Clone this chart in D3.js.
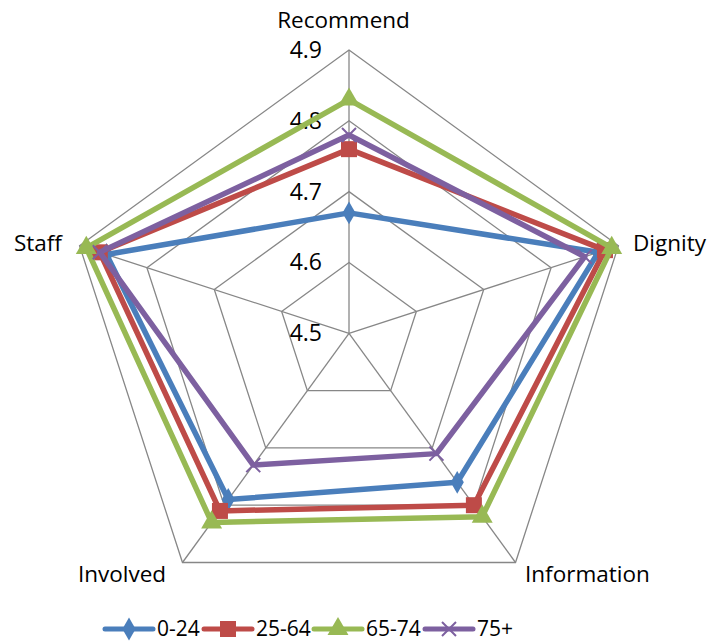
<!DOCTYPE html>
<html>
<head>
<meta charset="utf-8">
<script src="https://cdn.jsdelivr.net/npm/d3@7"></script>
<style>
  body { margin: 0; background: #fff; }
  text { font-family: "Open Sans", "Liberation Sans", sans-serif; fill: #000; }
</style>
</head>
<body>
<div id="chart"></div>
<script>
// Chart data
const categories = ['Recommend', 'Dignity', 'Information', 'Involved', 'Staff'];
const seriesNames = ['0-24', '25-64', '65-74', '75+'];
const age0_24 = [4.67, 4.87, 4.76, 4.79, 4.86];
const age25_64 = [4.76, 4.88, 4.80, 4.81, 4.87];
const age65_74 = [4.83, 4.89, 4.82, 4.83, 4.89];
const age75plus = [4.78, 4.85, 4.71, 4.73, 4.87];
const tickValues = [4.5, 4.6, 4.7, 4.8, 4.9];

const allSeries = [age0_24, age25_64, age65_74, age75plus];
const colors = ['#4A7EBB', '#BE4B48', '#98B954', '#7D60A0'];
const markers = ['diamond', 'square', 'triangle', 'cross'];

const width = 709, height = 641;
const cx = 349, cy = 333.3, R = 283.3;

const svg = d3.select('#chart').append('svg')
  .attr('width', width)
  .attr('height', height);

const r = d3.scaleLinear().domain([4.5, 4.9]).range([0, R]);
const angle = d3.scalePoint().domain(d3.range(categories.length))
  .range([0, 2 * Math.PI * (categories.length - 1) / categories.length]);

const radar = svg.append('g').attr('transform', `translate(${cx}, ${cy})`);

const pt = (i, v) => {
  const a = angle(i) - Math.PI / 2;
  return [r(v) * Math.cos(a), r(v) * Math.sin(a)];
};

// grid rings
tickValues.slice(1).forEach(t => {
  radar.append('path')
    .attr('d', d3.line()(categories.map((c, i) => pt(i, t))) + 'Z')
    .attr('fill', 'none')
    .attr('stroke', '#878787')
    .attr('stroke-width', 1.3);
});
// spokes
categories.forEach((c, i) => {
  const p = pt(i, 4.9);
  radar.append('line')
    .attr('x1', 0).attr('y1', 0)
    .attr('x2', p[0]).attr('y2', p[1])
    .attr('stroke', '#878787')
    .attr('stroke-width', 1.3);
});

// tick labels
radar.selectAll('.tick')
  .data(tickValues)
  .enter().append('text')
  .attr('x', -27)
  .attr('y', d => -r(d) + 8)
  .attr('text-anchor', 'end')
  .style('font-size', '23px')
  .text(d => d.toFixed(1));

// category labels (baseline positions, relative to centre)
const labelPos = [
  {x: -5.5, y: 28 - cy, anchor: 'middle'},
  {x: 633 - cx, y: 251 - cy, anchor: 'start'},
  {x: 525 - cx, y: 582 - cy, anchor: 'start'},
  {x: 122 - cx, y: 582 - cy, anchor: 'middle'},
  {x: 62 - cx, y: 251 - cy, anchor: 'end'}
];
radar.selectAll('.cat')
  .data(categories)
  .enter().append('text')
  .attr('x', (d, i) => labelPos[i].x)
  .attr('y', (d, i) => labelPos[i].y)
  .attr('text-anchor', (d, i) => labelPos[i].anchor)
  .style('font-size', '22.5px')
  .text(d => d);

function drawMarker(g, type, color, x, y) {
  if (type === 'diamond') {
    g.append('path').attr('d', d3.symbol(d3.symbolDiamond, 150)())
      .attr('transform', `translate(${x},${y})`).attr('fill', color);
  } else if (type === 'square') {
    g.append('rect').attr('x', x - 8).attr('y', y - 8)
      .attr('width', 16).attr('height', 16).attr('fill', color);
  } else if (type === 'triangle') {
    g.append('path').attr('d', d3.symbol(d3.symbolTriangle, 190)())
      .attr('transform', `translate(${x},${y})`).attr('fill', color);
  } else {
    g.append('path').attr('d', `M${x - 7},${y - 7}L${x + 7},${y + 7}M${x - 7},${y + 7}L${x + 7},${y - 7}`)
      .attr('stroke', color).attr('stroke-width', 2);
  }
}

// series lines and markers
allSeries.forEach((s, k) => {
  const g = radar.append('g');
  g.append('path')
    .attr('d', d3.line()(s.map((v, i) => pt(i, v))) + 'Z')
    .attr('fill', 'none')
    .attr('stroke', colors[k])
    .attr('stroke-width', 5.5)
    .attr('stroke-linejoin', 'round');
  s.forEach((v, i) => {
    const p = pt(i, v);
    drawMarker(g, markers[k], colors[k], p[0], p[1]);
  });
});

// legend
const legendX = [105, 204, 314, 425];
const legendY = 629;
const legend = svg.append('g');
seriesNames.forEach((name, k) => {
  const x0 = legendX[k];
  legend.append('line')
    .attr('x1', x0).attr('y1', legendY)
    .attr('x2', x0 + 48).attr('y2', legendY)
    .attr('stroke', colors[k])
    .attr('stroke-width', 5)
    .attr('stroke-linecap', 'round');
  drawMarker(legend, markers[k], colors[k], x0 + 24, legendY);
  legend.append('text')
    .attr('x', x0 + 52)
    .attr('y', 636)
    .style('font-size', '21px')
    .text(name);
});
</script>
</body>
</html>
